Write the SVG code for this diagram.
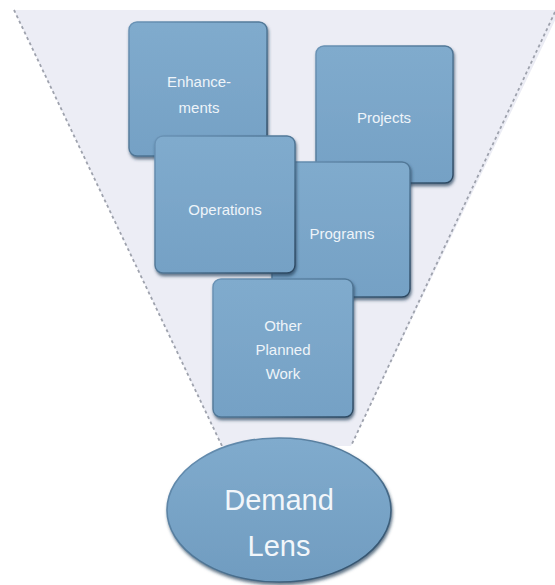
<svg xmlns="http://www.w3.org/2000/svg" width="555" height="585" viewBox="0 0 555 585">
  <style>
    .box { fill: url(#boxFill); stroke: url(#rim); stroke-width: 1.4; filter: url(#shadow); }
    .lens { fill: url(#lensFill); stroke: url(#rim); stroke-width: 1.6; filter: url(#shadow); }
    .label { font-family: "Liberation Sans", Arial, sans-serif; font-size: 15px; fill: #eef4f9; text-anchor: middle; }
    .big { font-family: "Liberation Sans", Arial, sans-serif; font-size: 29px; fill: #f2f6fa; text-anchor: middle; }
    .edge { stroke: #9ea2ad; stroke-width: 1.8; stroke-dasharray: 3 3; fill: none; }
  </style>
  <defs>
    <linearGradient id="boxFill" x1="0" y1="0" x2="0" y2="1">
      <stop offset="0" stop-color="#80abcd"/>
      <stop offset="1" stop-color="#75a1c5"/>
    </linearGradient>
    <linearGradient id="lensFill" x1="0" y1="0" x2="0" y2="1">
      <stop offset="0" stop-color="#80abcd"/>
      <stop offset="1" stop-color="#709cc0"/>
    </linearGradient>
    <!-- rim: light at top-left, dark at bottom-right -->
    <linearGradient id="rim" x1="0" y1="0" x2="1" y2="1">
      <stop offset="0" stop-color="#6a93b6"/>
      <stop offset="0.6" stop-color="#4b7190"/>
      <stop offset="1" stop-color="#2c4861"/>
    </linearGradient>
    <filter id="shadow" x="-10%" y="-10%" width="125%" height="125%">
      <feDropShadow dx="1" dy="2.5" stdDeviation="1.5" flood-color="#23405a" flood-opacity="0.7"/>
    </filter>
  </defs>

  <rect width="555" height="585" fill="#ffffff"/>

  <!-- funnel -->
  <g id="funnel">
    <polygon points="14,10 560,10 351,446 222,446" fill="#ecedf5"/>
    <line class="edge" x1="14" y1="10" x2="222" y2="446"/>
    <line class="edge" x1="555" y1="12" x2="351" y2="446"/>
  </g>

  <g id="enhancements">
    <rect class="box" x="129" y="22" width="138" height="134" rx="8"/>
    <text class="label" x="199" y="87">Enhance-</text>
    <text class="label" x="199" y="113">ments</text>
  </g>

  <g id="projects">
    <rect class="box" x="316" y="46" width="137" height="137" rx="8"/>
    <text class="label" x="384" y="123">Projects</text>
  </g>

  <g id="programs">
    <rect class="box" x="272" y="162" width="138" height="135" rx="8"/>
    <text class="label" x="342" y="239">Programs</text>
  </g>

  <g id="operations">
    <rect class="box" x="155" y="136" width="140" height="137" rx="8"/>
    <text class="label" x="225" y="215">Operations</text>
  </g>

  <g id="other-planned-work">
    <rect class="box" x="213" y="279" width="140" height="138" rx="8"/>
    <text class="label" x="283" y="331">Other</text>
    <text class="label" x="283" y="355">Planned</text>
    <text class="label" x="283" y="379">Work</text>
  </g>

  <g id="demand-lens">
    <ellipse class="lens" cx="279" cy="510" rx="112" ry="72"/>
    <text class="big" x="279" y="510">Demand</text>
    <text class="big" x="279" y="556">Lens</text>
  </g>

  <g id="connectors"/>
</svg>
